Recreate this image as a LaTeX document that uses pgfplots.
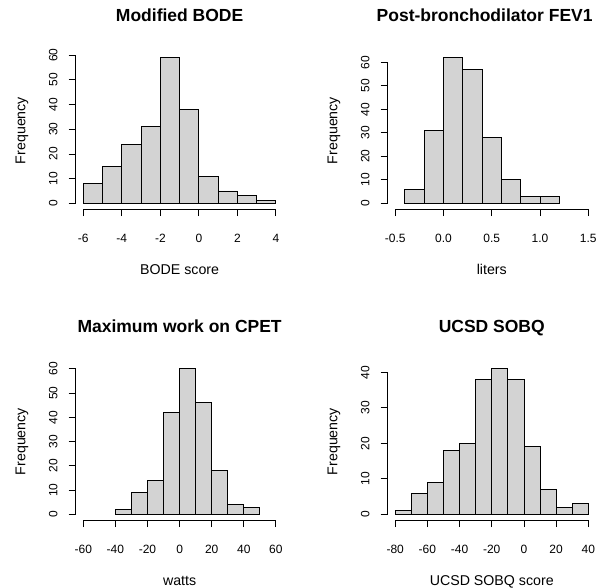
\documentclass[border=0pt]{standalone}
\usepackage{fontspec}
\setmainfont{Liberation Sans}
\usepackage{pgfplots}
\pgfplotsset{compat=1.18}
\definecolor{rgray}{HTML}{D3D3D3}
\pgfplotsset{
  rhist/.style={
    scale only axis, clip=false,
    axis x line*=bottom, axis y line*=left,
    axis line style={draw=none},
    tick align=outside, major tick length=7pt,
    tick style={black, line width=0.85pt},
    every tick label/.append style={font=\fontsize{12}{14}\selectfont},
    /pgf/number format/assume math mode=true,
    xticklabel style={yshift=-14.5pt},
    yticklabel style={xshift=-7.5pt, rotate=90, anchor=south},
    xlabel style={at={(axis description cs:0.5,-0.418)}, anchor=base, font=\fontsize{14.2}{16}\selectfont},
    ylabel style={at={(axis description cs:-0.241,0.5)}, anchor=base, font=\fontsize{14.2}{16}\selectfont},
    title style={at={(axis description cs:0.5,1.156)}, anchor=base, font=\bfseries\fontsize{17.5}{20}\selectfont},
    ylabel={Frequency},
  },
  rbar/.style={ybar interval, fill=rgray, draw=black, line width=0.85pt},
}
\begin{document}
\begin{tikzpicture}
\useasboundingbox (0,0) rectangle (600pt,588pt);
% Panel 1
\begin{axis}[rhist, at={(75.6pt,378.9pt)}, anchor=south west, width=208pt, height=157.2pt,
  xmin=-6.4, xmax=4.4, ymin=-2.36, ymax=61.36,
  xtick={-6,-4,-2,0,2,4}, ytick={0,10,20,30,40,50,60},
  title={Modified BODE}, xlabel={BODE score}]
\addplot[rbar] coordinates {(-6,8) (-5,15) (-4,24) (-3,31) (-2,59) (-1,38) (0,11) (1,5) (2,3) (3,1) (4,1)};
\draw[line width=0.85pt] (axis cs:-6,-2.36) -- (axis cs:4,-2.36);
\draw[line width=0.85pt] (axis cs:-6.4,0) -- (axis cs:-6.4,60);
\end{axis}
% Panel 2
\begin{axis}[rhist, at={(387.5pt,378.9pt)}, anchor=south west, width=208.5pt, height=157.2pt,
  xmin=-0.58, xmax=1.58, ymin=-2.48, ymax=64.48,
  xtick={-0.5,0,0.5,1,1.5}, xticklabels={-0.5,0.0,0.5,1.0,1.5}, ytick={0,10,20,30,40,50,60},
  title={Post-bronchodilator FEV1}, title style={at={(axis description cs:0.466,1.156)}}, xlabel={liters}]
\addplot[rbar] coordinates {(-0.4,6) (-0.2,31) (0,62) (0.2,57) (0.4,28) (0.6,10) (0.8,3) (1.0,3) (1.2,3)};
\draw[line width=0.85pt] (axis cs:-0.5,-2.48) -- (axis cs:1.5,-2.48);
\draw[line width=0.85pt] (axis cs:-0.58,0) -- (axis cs:-0.58,60);
\end{axis}
% Panel 3
\begin{axis}[rhist, at={(75.6pt,67.8pt)}, anchor=south west, width=208pt, height=157.2pt,
  xmin=-64.8, xmax=64.8, ymin=-2.4, ymax=62.4,
  xtick={-60,-40,-20,0,20,40,60}, ytick={0,10,20,30,40,50,60},
  title={Maximum work on CPET}, xlabel={watts}]
\addplot[rbar] coordinates {(-40,2) (-30,9) (-20,14) (-10,42) (0,60) (10,46) (20,18) (30,4) (40,3) (50,3)};
\draw[line width=0.85pt] (axis cs:-60,-2.4) -- (axis cs:60,-2.4);
\draw[line width=0.85pt] (axis cs:-64.8,0) -- (axis cs:-64.8,60);
\end{axis}
% Panel 4
\begin{axis}[rhist, at={(387.5pt,67.8pt)}, anchor=south west, width=208.5pt, height=157.2pt,
  xmin=-84.8, xmax=44.8, ymin=-1.64, ymax=42.64,
  xtick={-80,-60,-40,-20,0,20,40}, ytick={0,10,20,30,40},
  title={UCSD SOBQ}, xlabel={UCSD SOBQ score}]
\addplot[rbar] coordinates {(-80,1) (-70,6) (-60,9) (-50,18) (-40,20) (-30,38) (-20,41) (-10,38) (0,19) (10,7) (20,2) (30,3) (40,3)};
\draw[line width=0.85pt] (axis cs:-80,-1.64) -- (axis cs:40,-1.64);
\draw[line width=0.85pt] (axis cs:-84.8,0) -- (axis cs:-84.8,40);
\end{axis}
\end{tikzpicture}
\end{document}
